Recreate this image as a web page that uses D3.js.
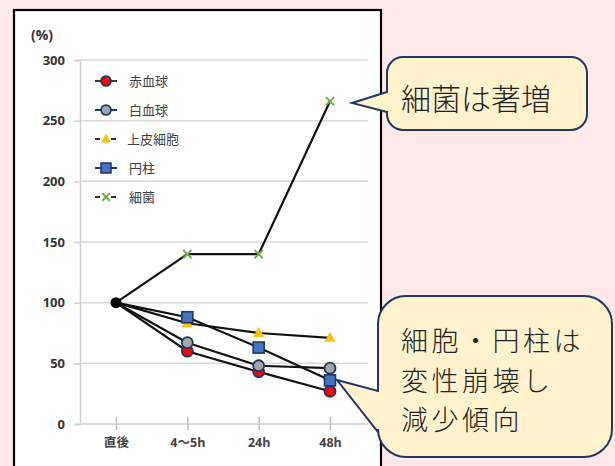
<!DOCTYPE html>
<html><head><meta charset="utf-8">
<script src="https://cdn.jsdelivr.net/npm/d3@7"></script>
<style>html,body{margin:0;padding:0;background:#fde9e9;}svg{display:block;}</style>
</head><body>
<svg id="c" width="615" height="466"></svg>
<script>
const categories = ["直後", "4～5h", "24h", "48h"];
const yTicks = [0, 50, 100, 150, 200, 250, 300];
const seriesNames = ["赤血球", "白血球", "上皮細胞", "円柱", "細菌"];
const redCells = [100, 60, 43, 27];
const whiteCells = [100, 67, 48, 46];
const epithelial = [100, 83, 75, 71];
const casts = [100, 88, 63, 36];
const bacteria = [100, 140, 140, 266];
const callout1 = ["細菌は著増"];
const callout2 = ["細胞・円柱は", "変性崩壊し", "減少傾向"];

const series = [
  {name: seriesNames[0], values: redCells, type: "circle", fill: "#ff0000", stroke: "#1f3864"},
  {name: seriesNames[1], values: whiteCells, type: "circle", fill: "#a6a6a6", stroke: "#1f3864"},
  {name: seriesNames[2], values: epithelial, type: "triangle", fill: "#ffc000", stroke: "none"},
  {name: seriesNames[3], values: casts, type: "square", fill: "#4472c4", stroke: "#1f3864"},
  {name: seriesNames[4], values: bacteria, type: "cross", fill: "none", stroke: "#70ad47"}
];

const svg = d3.select("#c");
svg.append("rect").attr("x", 14).attr("y", 10).attr("width", 367).attr("height", 470)
  .attr("fill", "#fff").attr("stroke", "#000").attr("stroke-width", 2.2);

const x = d3.scalePoint().domain(categories).range([116, 330]);
const y = d3.scaleLinear().domain([0, 300]).range([424, 60]);

const g = svg.append("g");
g.selectAll("line.grid").data(yTicks.filter(d => d > 0)).join("line")
  .attr("x1", 80).attr("x2", 368).attr("y1", d => y(d)).attr("y2", d => y(d))
  .attr("stroke", "#d9d9d9").attr("stroke-width", 1.5);
const yAxis = d3.axisLeft(y).tickValues(yTicks).tickSize(6).tickPadding(9);
const ya = g.append("g").attr("transform", "translate(80,0)").call(yAxis);
ya.select(".domain").attr("stroke", "#d0d0d0").attr("stroke-width", 1.5);
ya.selectAll(".tick line").attr("stroke", "#d0d0d0").attr("stroke-width", 1.5);
ya.selectAll("text").attr("font-family", "'Open Sans', 'Liberation Sans', sans-serif")
  .attr("font-weight", "bold").attr("font-size", 13).attr("fill", "#333");
const xAxis = d3.axisBottom(x).tickSize(0).tickPadding(14);
const xa = g.append("g").attr("transform", "translate(0,424)").call(xAxis);
xa.select(".domain").remove();
xa.append("line").attr("x1", 80).attr("x2", 368).attr("stroke", "#d0d0d0").attr("stroke-width", 1.5);
xa.selectAll(".tick").append("line").attr("y1", -7).attr("y2", 6).attr("stroke", "#bbb").attr("stroke-width", 1.5);
xa.selectAll("text").attr("font-family", "'Open Sans', 'Noto Sans CJK JP', sans-serif")
  .attr("font-weight", "bold").attr("font-size", 12.5).attr("fill", "#444");
svg.append("text").attr("x", 31).attr("y", 40).text("(%)")
  .attr("font-family", "'Open Sans', sans-serif").attr("font-weight", "bold").attr("font-size", 14).attr("fill", "#333");

const line = d3.line().x((d, i) => x(categories[i])).y(d => y(d));
series.forEach(s => {
  g.append("path").attr("d", line(s.values)).attr("fill", "none")
    .attr("stroke", "#111").attr("stroke-width", 2.2);
});

function marker(sel, s, cx, cy, scale) {
  const r = 5.5 * scale;
  if (s.type === "circle") {
    sel.append("circle").attr("cx", cx).attr("cy", cy).attr("r", r)
      .attr("fill", s.fill).attr("stroke", s.stroke).attr("stroke-width", 1.8);
  } else if (s.type === "square") {
    sel.append("rect").attr("x", cx - r).attr("y", cy - r).attr("width", 2 * r).attr("height", 2 * r)
      .attr("fill", s.fill).attr("stroke", s.stroke).attr("stroke-width", 1.6);
  } else if (s.type === "triangle") {
    const h = r * 1.8;
    sel.append("path").attr("d", `M${cx},${cy - h * 0.6}L${cx + r},${cy + h * 0.4}L${cx - r},${cy + h * 0.4}Z`)
      .attr("fill", s.fill);
  } else {
    const a = r * 0.75;
    sel.append("path").attr("d", `M${cx - a},${cy - a}L${cx + a},${cy + a}M${cx - a},${cy + a}L${cx + a},${cy - a}`)
      .attr("stroke", s.stroke).attr("stroke-width", 2);
  }
}
series.forEach(s => {
  s.values.forEach((v, i) => {
    if (i === 0) return;
    marker(g, s, x(categories[i]), y(v), 1);
  });
});
g.append("circle").attr("cx", x(categories[0])).attr("cy", y(redCells[0])).attr("r", 5.5).attr("fill", "#000");

const lg = svg.append("g");
series.forEach((s, i) => {
  const ly = 81 + i * 29;
  const dashed = s.type === "triangle" || s.type === "cross";
  if (dashed) {
    lg.append("line").attr("x1", 95).attr("x2", 100).attr("y1", ly).attr("y2", ly).attr("stroke", "#333").attr("stroke-width", 2);
    lg.append("line").attr("x1", 111).attr("x2", 116).attr("y1", ly).attr("y2", ly).attr("stroke", "#333").attr("stroke-width", 2);
  } else {
    lg.append("line").attr("x1", 95).attr("x2", 117).attr("y1", ly).attr("y2", ly).attr("stroke", "#1f3864").attr("stroke-width", 2);
  }
  marker(lg, s, 106, ly, 0.9);
  lg.append("text").attr("x", i === 2 ? 127 : 129).attr("y", ly + 4.5).text(s.name)
    .attr("font-family", "'Noto Sans CJK JP', sans-serif").attr("font-size", 13).attr("fill", "#404040");
});

function roundedWithPointer(x0, y0, x1, y1, r, tip, b1, b2) {
  const p = d3.path();
  p.moveTo(x0 + r, y0);
  p.lineTo(x1 - r, y0); p.arcTo(x1, y0, x1, y0 + r, r);
  p.lineTo(x1, y1 - r); p.arcTo(x1, y1, x1 - r, y1, r);
  p.lineTo(x0 + r, y1); p.arcTo(x0, y1, x0, y1 - r, r);
  p.lineTo(x0, b2); p.lineTo(tip[0], tip[1]); p.lineTo(x0, b1);
  p.lineTo(x0, y0 + r); p.arcTo(x0, y0, x0 + r, y0, r);
  p.closePath();
  return p.toString();
}
svg.append("path").attr("d", roundedWithPointer(387, 57, 587, 130, 16, [352, 103], 92, 112))
  .attr("fill", "#fff2cc").attr("stroke", "#1f3864").attr("stroke-width", 2);
svg.append("text").attr("x", 401).attr("y", 110).text(callout1[0])
  .attr("font-family", "'Noto Sans CJK JP', sans-serif").attr("font-weight", 300).attr("font-size", 30).attr("fill", "#222");

svg.append("path").attr("d", roundedWithPointer(378, 296, 612, 457, 28, [337, 380], 391, 432))
  .attr("fill", "#fff2cc").attr("stroke", "#1f3864").attr("stroke-width", 2);
svg.append("g").selectAll("text").data(callout2).join("text")
  .attr("x", 401).attr("y", (d, i) => 351 + i * 39.5).text(d => d)
  .attr("font-family", "'Noto Sans CJK JP', sans-serif").attr("font-weight", 300)
  .attr("font-size", 27).attr("letter-spacing", 3.5).attr("fill", "#222");
</script>
</body></html>
